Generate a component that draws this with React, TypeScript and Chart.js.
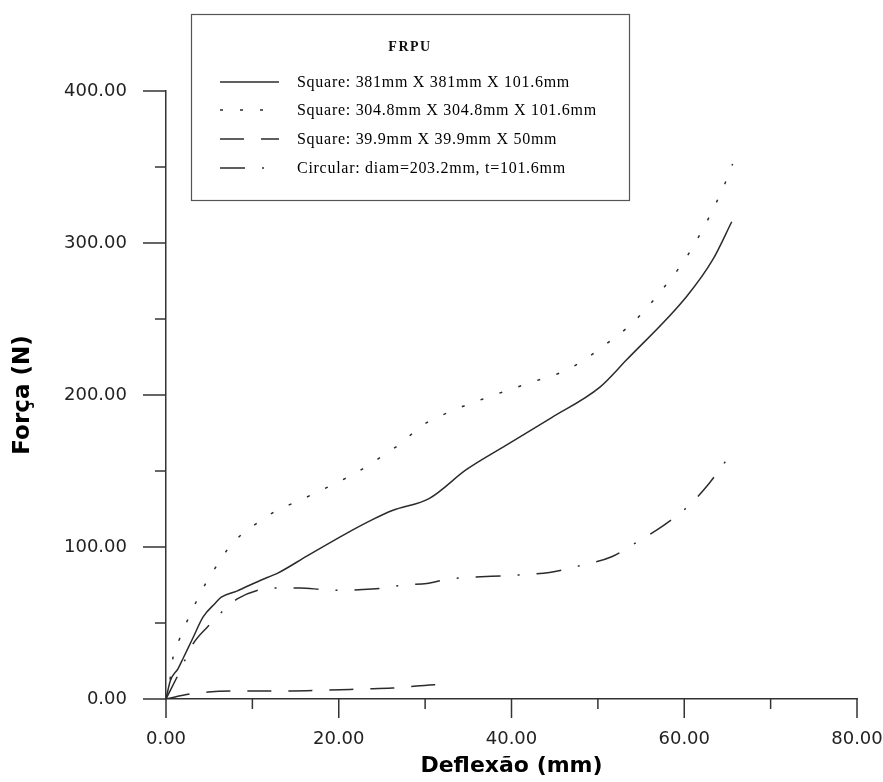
import React, { useEffect, useRef } from 'react';
import { Chart, registerables } from 'chart.js';

Chart.register(...registerables);

// ---------- data ----------
const legendTitle = 'FRPU';
const seriesLabels = [
  'Square: 381mm X 381mm X 101.6mm',
  'Square: 304.8mm X 304.8mm X 101.6mm',
  'Square: 39.9mm X 39.9mm X 50mm',
  'Circular: diam=203.2mm, t=101.6mm',
];

const sq381X = [0, 0.5, 1.4, 2, 3.1, 4.3, 5.7, 6.4, 8.2, 10.9, 13, 16.3, 20.9, 23.9, 26.2, 30.5, 34.8, 39.4, 44.6, 50.2, 53.3, 60.3, 63.3, 65.5];
const sq381Y = [0, 12, 20, 27, 40, 54, 63, 67, 71, 78, 83, 94, 109, 118, 124, 132, 151, 167, 185, 205, 223, 265, 289, 314];

const sq304X = [0, 0.5, 0.8, 1.6, 2.5, 3.5, 4.6, 5.9, 7.2, 8.9, 10.9, 12.8, 15.2, 17.1, 19.3, 21.4, 23.5, 25.6, 27.4, 29.4, 33.3, 37.5, 42.1, 46.6, 50.6, 54.3, 57.4, 60.3, 62.7, 64.7, 65.6];
const sq304Y = [0, 14, 27, 40, 52, 64, 76, 88, 99, 109, 117, 124, 130, 135, 141, 147, 154, 162, 169, 179, 190, 199, 208, 217, 232, 249, 269, 291, 315, 339, 352];

const sq399X = [0, 2.8, 4.9, 9.7, 14.7, 19, 22.8, 26.2, 29, 32.5];
const sq399Y = [0, 3.3, 4.6, 5.3, 5.3, 5.9, 6.6, 7.2, 8.6, 9.9];

const circX = [0, 1.5, 3.1, 4.9, 6.6, 8.3, 10.9, 13, 15.5, 18.2, 20.4, 22.8, 25.1, 27.6, 30.2, 32.5, 40.9, 44.4, 48.1, 51.6, 54.6, 57.7, 60.6, 62.9, 65, 65.8];
const circY = [0, 17, 36, 48, 58, 66, 72, 73, 73, 72, 71.5, 72, 73, 75, 76, 78.7, 81.6, 83.3, 88, 93.6, 103.5, 114.5, 127.6, 142, 158, 164];

const xMajorTicks = [0, 20, 40, 60, 80];
const yMajorTicks = [0, 100, 200, 300, 400];

const xTitle = 'Deflexão (mm)';
const yTitle = 'Força (N)';

// ---------- styles ----------
const LINE_COLOR = '#2b2b2b';
const AXIS_COLOR = '#333333';
const TEXT_COLOR = '#222222';
const dashes = [[], [3, 17], [24, 17], [25, 17, 2, 17]];

const toPoints = (xs: number[], ys: number[]) => xs.map((x, i) => ({ x, y: ys[i] }));

const outerTicksPlugin = {
  id: 'outerTicks',
  afterDraw(chart: any) {
    const { ctx, chartArea, scales } = chart;
    const xs = scales.x;
    const ys = scales.y;
    ctx.save();
    ctx.strokeStyle = AXIS_COLOR;
    ctx.lineWidth = 1.5;
    xs.ticks.forEach((t: any) => {
      const px = xs.getPixelForValue(t.value);
      const len = xMajorTicks.includes(t.value) ? 19 : 10;
      ctx.beginPath();
      ctx.moveTo(px, chartArea.bottom);
      ctx.lineTo(px, chartArea.bottom + len);
      ctx.stroke();
    });
    ys.ticks.forEach((t: any) => {
      const py = ys.getPixelForValue(t.value);
      const len = yMajorTicks.includes(t.value) ? 23 : 11;
      ctx.beginPath();
      ctx.moveTo(chartArea.left, py);
      ctx.lineTo(chartArea.left - len, py);
      ctx.stroke();
    });
    ctx.restore();
  },
};

const boxLegendPlugin = {
  id: 'boxLegend',
  afterDraw(chart: any) {
    const ctx = chart.ctx as CanvasRenderingContext2D;
    const L = 191, T = 14, R = 629, B = 200;
    ctx.save();
    ctx.fillStyle = '#ffffff';
    ctx.fillRect(L, T, R - L, B - T);
    ctx.strokeStyle = '#555555';
    ctx.lineWidth = 1.2;
    ctx.strokeRect(L + 0.5, T + 0.5, R - L, B - T);

    // title
    ctx.fillStyle = '#111111';
    ctx.textAlign = 'center';
    ctx.textBaseline = 'middle';
    ctx.font = 'bold 14px "Liberation Serif", serif';
    (ctx as any).letterSpacing = '1.5px';
    ctx.fillText(legendTitle, 410, 47);

    // rows
    ctx.font = '16px "Liberation Serif", serif';
    (ctx as any).letterSpacing = '0px';
    const base = ctx.measureText(seriesLabels[0]).width;
    const spacing = Math.max(0, (273 - base) / seriesLabels[0].length);
    (ctx as any).letterSpacing = spacing.toFixed(2) + 'px';
    ctx.textAlign = 'left';
    ctx.fillStyle = '#000000';
    const rowsY = [82, 110, 139, 168];
    chart.data.datasets.forEach((ds: any, i: number) => {
      const y = rowsY[i];
      ctx.save();
      ctx.strokeStyle = LINE_COLOR;
      ctx.lineWidth = 1.4;
      ctx.setLineDash(ds.borderDash || []);
      ctx.beginPath();
      ctx.moveTo(220, y);
      ctx.lineTo(279, y);
      ctx.stroke();
      ctx.restore();
      ctx.fillText(ds.label, 297, y + 1);
    });
    ctx.restore();
  },
};

export default function App() {
  const ref = useRef<HTMLCanvasElement | null>(null);

  useEffect(() => {
    if (!ref.current) return;
    const seriesX = [sq381X, sq304X, sq399X, circX];
    const seriesY = [sq381Y, sq304Y, sq399Y, circY];
    const chart = new Chart(ref.current, {
      type: 'line',
      data: {
        datasets: seriesLabels.map((label, i) => ({
          label,
          data: toPoints(seriesX[i], seriesY[i]),
          borderColor: LINE_COLOR,
          borderWidth: 1.5,
          borderDash: dashes[i],
          pointRadius: 0,
          fill: false,
          cubicInterpolationMode: 'monotone' as const,
        })),
      },
      options: {
        responsive: false,
        animation: false,
        devicePixelRatio: 1,
        layout: { padding: { left: 0, top: 91, right: 26, bottom: 0 } },
        plugins: {
          legend: { display: false },
          tooltip: { enabled: false },
        },
        scales: {
          x: {
            type: 'linear',
            min: 0,
            max: 80,
            grid: { display: false, drawTicks: false },
            border: { display: true, color: AXIS_COLOR, width: 1.5 },
            ticks: {
              stepSize: 10,
              autoSkip: false,
              maxRotation: 0,
              padding: 30,
              color: TEXT_COLOR,
              font: { family: '"DejaVu Sans", sans-serif', size: 18 },
              callback: (v: any) => (xMajorTicks.includes(Number(v)) ? Number(v).toFixed(2) : ''),
            },
            title: {
              display: true,
              text: xTitle,
              color: '#000000',
              font: { family: '"DejaVu Sans", sans-serif', size: 22, weight: 'bold' },
              padding: { top: 0, bottom: 3 },
            },
            afterFit: (scale: any) => {
              scale.height = 83;
              scale.paddingLeft = 0;
              scale.paddingRight = 0;
            },
          },
          y: {
            type: 'linear',
            min: 0,
            max: 400,
            grid: { display: false, drawTicks: false },
            border: { display: true, color: AXIS_COLOR, width: 1.5 },
            ticks: {
              stepSize: 50,
              autoSkip: false,
              padding: 39,
              color: TEXT_COLOR,
              font: { family: '"DejaVu Sans", sans-serif', size: 18 },
              callback: (v: any) => (yMajorTicks.includes(Number(v)) ? Number(v).toFixed(2) : ''),
            },
            title: {
              display: true,
              text: yTitle,
              color: '#000000',
              font: { family: '"DejaVu Sans", sans-serif', size: 23, weight: 'bold' },
              padding: { top: 9, bottom: 0 },
            },
            afterFit: (scale: any) => {
              scale.width = 166;
              scale.paddingTop = 0;
              scale.paddingBottom = 0;
            },
          },
        },
      },
      plugins: [outerTicksPlugin, boxLegendPlugin],
    });
    return () => chart.destroy();
  }, []);

  return (
    <div style={{ position: 'absolute', left: 0, top: 0, width: 883, height: 782, background: '#ffffff' }}>
      <canvas ref={ref} width={883} height={782} style={{ display: 'block', width: 883, height: 782 }} />
    </div>
  );
}
